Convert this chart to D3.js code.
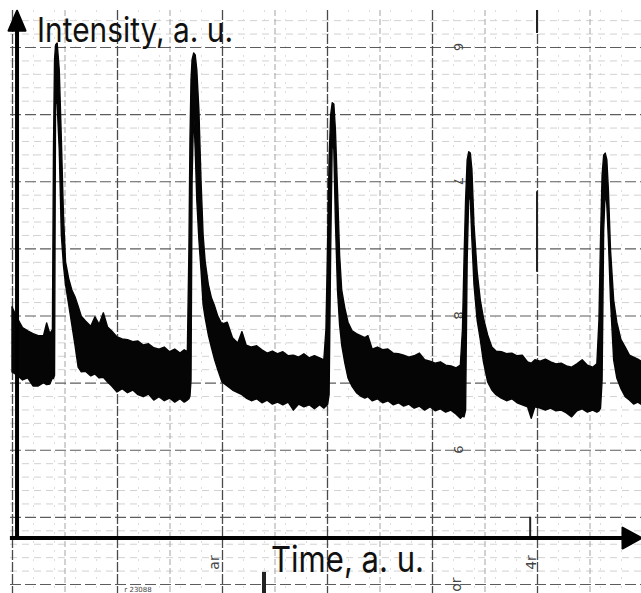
<!DOCTYPE html>
<html>
<head>
<meta charset="utf-8">
<script src="https://cdn.jsdelivr.net/npm/d3@7"></script>
<style>
    body { margin: 0; background: #fff; }
    svg { display: block; }
    .label { font-family: Inter, 'Noto Sans', sans-serif; fill: #111; }
    .paper { font-family: 'DejaVu Sans', sans-serif; fill: #444; }
</style>
</head>
<body>
<svg id="chart" width="641" height="593"></svg>
<script>
// time (a.u., one major paper division = 10) and the upper / lower edge of the recorded band
const time = [0, 0.5, 1.0, 1.5, 2.0, 2.5, 3.0, 3.3, 3.6, 3.85,
    3.95, 4.05, 4.15, 4.3, 4.5, 4.7, 4.9, 5.1, 5.4, 5.7, 6.0, 6.3, 6.6, 7.0, 7.5, 7.9, 8.3, 8.7, 9.1, 9.5,
    10.0, 10.5, 11.0, 11.5, 12.0, 12.5, 13.0, 13.5, 14.0, 14.5, 15.0, 15.5, 16.0, 16.4, 16.7,
    16.85, 16.95, 17.05, 17.15, 17.3, 17.45, 17.6, 17.8, 18.0, 18.2, 18.4, 18.7, 19.0, 19.3, 19.6,
    20.0, 20.5, 21.0, 21.5, 21.9, 22.3, 22.8, 23.3, 23.8, 24.3, 24.8, 25.3, 25.8, 26.3, 26.8, 27.3, 27.8, 28.3, 28.8, 29.3, 29.7,
    29.9, 30.05, 30.2, 30.35, 30.5, 30.65, 30.8, 31.0, 31.2, 31.4, 31.7, 32.0, 32.4, 32.8, 33.2, 33.6, 33.9,
    34.3, 34.8, 35.3, 35.8, 36.3, 36.8, 37.3, 37.8, 38.3, 38.8, 39.3, 39.8, 40.3, 40.8, 41.3, 41.8, 42.3, 42.7,
    42.9, 43.05, 43.2, 43.35, 43.5, 43.65, 43.8, 44.0, 44.3, 44.6, 44.9, 45.3, 45.7, 46.1, 46.6, 47.1, 47.6,
    48.1, 48.6, 49.1, 49.45, 49.8, 50.3, 50.8, 51.3, 51.8, 52.3, 52.8, 53.3, 53.8, 54.3, 54.8, 55.3, 55.7,
    55.9, 56.05, 56.2, 56.35, 56.5, 56.65, 56.8, 57.0, 57.3, 57.6, 58.0, 58.4, 58.8, 59.2, 59.6, 60.0];

const upper = [41.3, 39.6, 38.2, 37.7, 37.3, 37.0, 37.0, 38.9, 37.3, 37.9,
    64.7, 78.1, 80.3, 80.6, 76.6, 66.2, 55.0, 48.0, 45.5, 43.8, 42.8, 41.4, 39.9, 39.2, 38.4, 39.8, 38.7, 40.4, 38.3, 37.7,
    36.8, 36.5, 36.4, 36.1, 36.2, 35.6, 35.8, 35.2, 35.0, 35.3, 34.6, 35.0, 34.4, 34.9, 34.6,
    49.8, 66.2, 75.1, 78.1, 79.1, 78.8, 76.6, 70.6, 60.2, 52.0, 48.0, 44.6, 42.6, 41.4, 39.9,
    38.7, 39.0, 36.7, 35.9, 37.6, 35.6, 35.3, 35.5, 34.9, 34.4, 34.7, 34.3, 34.6, 34.0, 34.1, 33.8, 34.3, 33.7, 34.0, 33.7, 33.4,
    37.9, 49.8, 63.2, 69.9, 71.7, 71.5, 67.7, 58.7, 49.0, 43.8, 41.1, 39.0, 37.7, 37.3, 37.0, 36.7, 37.0,
    35.0, 35.3, 34.9, 35.0, 34.4, 34.3, 34.1, 33.8, 34.0, 34.4, 33.4, 33.2, 32.9, 33.1, 32.6, 32.5, 32.2, 32.6,
    37.9, 48.3, 57.2, 63.2, 64.4, 64.2, 61.7, 53.5, 46.5, 42.3, 39.6, 37.1, 35.3, 34.7, 34.6, 34.3, 34.4,
    34.0, 34.1, 33.1, 32.9, 33.4, 33.2, 33.5, 33.1, 32.8, 32.9, 32.5, 32.3, 32.8, 33.4, 32.6, 32.3, 32.8,
    39.3, 51.3, 60.9, 63.9, 64.2, 63.2, 58.7, 49.8, 42.3, 39.0, 36.4, 35.3, 34.1, 33.8, 33.5, 33.1];

const lower = [31.6, 31.1, 30.4, 30.7, 29.5, 29.5, 30.0, 29.7, 29.8, 30.7,
    30.6, 31.1, 72.9, 71.5, 64.7, 52.0, 47.5, 44.6, 41.6, 38.6, 35.6, 32.3, 31.6, 31.7, 31.0, 31.3, 30.7, 30.8, 30.1, 29.5,
    28.6, 29.1, 28.5, 28.9, 28.2, 27.9, 28.3, 27.4, 27.9, 27.3, 27.7, 27.1, 27.6, 27.1, 27.4,
    27.6, 28.0, 30.4, 60.2, 70.6, 64.7, 57.2, 51.3, 46.8, 41.6, 39.6, 37.1, 35.2, 33.4, 31.9,
    30.1, 29.5, 28.9, 28.5, 28.2, 27.7, 27.3, 27.6, 27.0, 27.4, 26.8, 27.1, 26.7, 27.1, 25.9, 26.8, 26.4, 26.7, 26.1, 26.7, 26.2,
    26.5, 26.7, 28.2, 49.8, 66.2, 64.7, 54.2, 43.8, 38.6, 35.6, 32.9, 30.7, 29.4, 28.5, 28.0, 27.7, 27.9,
    27.3, 27.6, 27.0, 27.3, 26.7, 27.0, 26.5, 26.8, 26.2, 26.5, 25.9, 26.4, 25.8, 26.1, 25.6, 25.9, 25.3, 24.7,
    25.0, 24.9, 25.9, 48.3, 58.0, 57.2, 51.3, 44.6, 39.3, 36.4, 33.1, 30.1, 28.9, 28.2, 27.7, 27.3, 27.6,
    27.0, 26.7, 26.4, 24.7, 26.4, 26.2, 25.9, 26.2, 25.8, 25.9, 25.5, 24.9, 25.8, 26.1, 25.6, 25.9, 25.6,
    25.8, 26.2, 30.4, 52.8, 58.7, 56.5, 51.3, 42.3, 33.4, 30.7, 29.1, 27.9, 27.4, 26.8, 27.1, 26.7];

// chart paper rulings
const majorTime = [0, 10, 20, 30, 40, 50, 60];
const halfTime = [5, 15, 25, 35, 45, 55];
const fineTime = [2, 4, 6, 8, 12, 14, 16, 18, 22, 24, 26, 28, 32, 34, 36, 38, 42, 44, 46, 48, 52, 54, 56, 58];
const majorLevel = [0, 10, 20, 30, 40, 50, 60, 70, 80];
const fineLevel = [2, 4, 6, 8, 12, 14, 16, 18, 22, 24, 26, 28, 32, 34, 36, 38, 42, 44, 46, 48,
    52, 54, 56, 58, 62, 64, 66, 68, 72, 74, 76, 78, 82, 84];

// numbers printed on the paper
const paperDigits = ['6', '7', '8', '9'];
const paperLevels = [80, 60, 40, 20];
const paperBottom = ['ar', '4r', 'or'];
const paperBottomTime = [19.2, 49.4, 42.3];
const paperBottomLevel = [3.2, 3.2, -0.1];

// pen marks on the scan: [time, from level, to level]
const penMarks = [[24.0, -1.4, 1.8], [49.35, 6.9, 10.0], [50.0, 82.1, 85.5], [50.0, 46.5, 58.5]];

const axisTime = 0.48, axisLevel = 6.85, arrowTime = 59.95, arrowLevel = 85.4;

class Recorder {
    constructor(svg) {
        this.svg = svg;
        this.x = d3.scaleLinear().domain([0, 60]).range([12, 642]);
        this.y = d3.scaleLinear().domain([0, 80]).range([584, 47]);
    }

    rule(g, axis, color, width, dash) {
        g.call(axis.tickFormat(''))
            .call(a => a.select('.domain').remove())
            .selectAll('line')
            .attr('stroke', color)
            .attr('stroke-width', width)
            .attr('stroke-dasharray', dash);
    }

    drawGrid() {
        let g = this.svg.append('g').attr('class', 'grid');
        let h = () => g.append('g').attr('transform', 'translate(10,0)');
        let v = () => g.append('g').attr('transform', 'translate(0,10)');
        this.rule(v(), d3.axisTop(this.x).tickValues(fineTime).tickSize(-583), '#dedede', 1, '2,7');
        this.rule(h(), d3.axisLeft(this.y).tickValues(fineLevel).tickSize(-631), '#d2d2d2', 1, '7,5');
        this.rule(v(), d3.axisTop(this.x).tickValues(halfTime).tickSize(-583), '#a4a4a4', 1, '6,3');
        this.rule(h(), d3.axisLeft(this.y).tickValues(majorLevel).tickSize(-631), '#5c5c5c', 1.2, '11,4');
        this.rule(v(), d3.axisTop(this.x).tickValues(majorTime).tickSize(-583), '#4a4a4a', 1.3, '10,2');

        // printed paper numbers
        g.selectAll('.pd')
            .data(paperDigits)
            .enter()
            .append('text')
            .attr('class', 'paper')
            .attr('font-size', 13)
            .attr('text-anchor', 'middle')
            .attr('transform', (d, i) => 'translate(' + this.x(42.5) + ',' + this.y(paperLevels[i]) + ') rotate(90) translate(0,4)')
            .text(d => d);
        g.selectAll('.pb')
            .data(paperBottom)
            .enter()
            .append('text')
            .attr('class', 'paper')
            .attr('font-size', 14)
            .attr('text-anchor', 'middle')
            .attr('transform', (d, i) => 'translate(' + this.x(paperBottomTime[i]) + ',' + this.y(paperBottomLevel[i]) + ') rotate(-90) translate(0,5)')
            .text(d => d);
        g.append('text')
            .attr('class', 'paper')
            .attr('font-size', 7)
            .attr('x', this.x(10.7))
            .attr('y', this.y(-1.15))
            .text('r 23088');

        g.selectAll('.pen')
            .data(penMarks)
            .enter()
            .append('line')
            .attr('x1', d => this.x(d[0]))
            .attr('x2', d => this.x(d[0]))
            .attr('y1', d => this.y(d[1]))
            .attr('y2', d => this.y(d[2]))
            .attr('stroke', '#222')
            .attr('stroke-width', (d, i) => (i === 0 ? 4 : 2));
    }

    drawTrace() {
        let points = time.map((t, i) => ({t: t, hi: upper[i], lo: lower[i]}));
        let area = d3.area()
            .x(d => this.x(d.t))
            .y0(d => this.y(d.lo))
            .y1(d => this.y(d.hi));
        this.svg.append('path')
            .datum(points)
            .attr('d', area)
            .attr('fill', '#050505')
            .attr('stroke', '#050505')
            .attr('stroke-width', 1.4)
            .attr('stroke-linejoin', 'round');
    }

    drawAxes() {
        let g = this.svg.append('g').attr('class', 'axes');
        let x0 = this.x(axisTime), y0 = this.y(axisLevel);
        let xTip = this.x(arrowTime), yTip = this.y(arrowLevel);
        g.append('line')
            .attr('x1', x0).attr('x2', x0)
            .attr('y1', y0 + 2).attr('y2', yTip + 16)
            .attr('stroke', '#000').attr('stroke-width', 4);
        g.append('line')
            .attr('x1', this.x(-0.2)).attr('x2', xTip - 16)
            .attr('y1', y0).attr('y2', y0)
            .attr('stroke', '#000').attr('stroke-width', 4);
        // arrow heads
        let line = d3.line();
        g.append('path')
            .attr('d', line([[x0, yTip], [x0 + 8.5, yTip + 20], [x0 - 8.5, yTip + 20]]) + 'Z')
            .attr('fill', '#000')
            .attr('stroke', '#000')
            .attr('stroke-linejoin', 'round')
            .attr('stroke-width', 2);
        g.append('path')
            .attr('d', line([[xTip, y0], [xTip - 19, y0 - 10.5], [xTip - 19, y0 + 10.5]]) + 'Z')
            .attr('fill', '#000')
            .attr('stroke', '#000')
            .attr('stroke-linejoin', 'round')
            .attr('stroke-width', 2);

        g.append('text')
            .attr('class', 'label')
            .attr('x', 37)
            .attr('y', 42)
            .attr('font-size', 34)
            .attr('textLength', 196)
            .attr('lengthAdjust', 'spacingAndGlyphs')
            .text('Intensity, a. u.');
        g.append('text')
            .attr('class', 'label')
            .attr('x', 271)
            .attr('y', 572)
            .attr('font-size', 36)
            .attr('textLength', 153)
            .attr('lengthAdjust', 'spacingAndGlyphs')
            .text('Time, a. u.');
    }
}

let chart = new Recorder(d3.select('#chart'));
chart.drawGrid();
chart.drawTrace();
chart.drawAxes();
</script>
</body>
</html>
